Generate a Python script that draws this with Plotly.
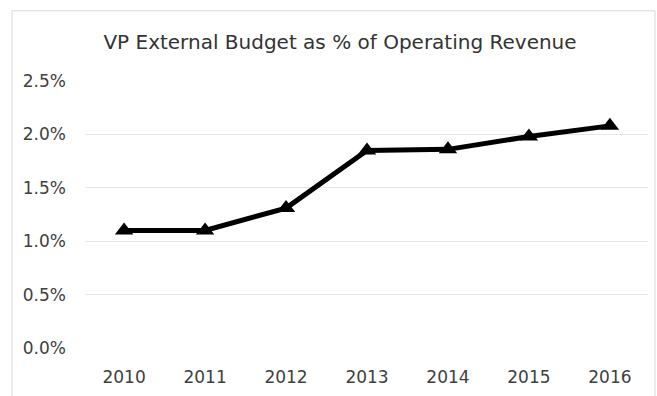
import plotly.graph_objects as go

# VP external budget as a share of operating revenue, by year
years = ["2010", "2011", "2012", "2013", "2014", "2015", "2016"]
budget_pct = [1.10, 1.10, 1.31, 1.85, 1.86, 1.98, 2.08]
y_ticks = [0.0, 0.5, 1.0, 1.5, 2.0, 2.5]
y_tick_labels = ["0.0%", "0.5%", "1.0%", "1.5%", "2.0%", "2.5%"]

fig = go.Figure()
fig.add_trace(go.Scatter(
    x=years,
    y=budget_pct,
    mode="lines+markers",
    line=dict(color="black", width=5),
    marker=dict(symbol="triangle-up", size=16, color="black"),
    showlegend=False,
))

W, H = 657, 396
L, R, T, B = 86, 9, 81, 45
pw, ph = W - L - R, H - T - B

def px_x(x):
    return (x - L) / pw

def px_y(y):
    return (H - B - y) / ph

fig.update_layout(
    width=W,
    height=H,
    margin=dict(l=L, r=R, t=T, b=B),
    paper_bgcolor="white",
    plot_bgcolor="white",
    font=dict(family="'DejaVu Sans', sans-serif", color="#595959"),
    title=dict(
        text="VP External Budget as % of Operating Revenue",
        x=340 / W,
        xanchor="center",
        y=1 - 42 / H,
        yanchor="middle",
        font=dict(size=20, color="#333333"),
    ),
    xaxis=dict(
        type="category",
        showgrid=False,
        showline=False,
        zeroline=False,
        ticks="",
        tickfont=dict(size=17, color="#404040"),
        ticklabelstandoff=17,
    ),
    yaxis=dict(
        range=[0, 2.5],
        tickvals=y_ticks,
        ticktext=y_tick_labels,
        showgrid=True,
        gridcolor="#e6e6e6",
        gridwidth=1,
        zeroline=False,
        showline=False,
        ticks="",
        tickfont=dict(size=17, color="#404040"),
        ticklabelstandoff=19,
    ),
    shapes=[
        dict(
            type="rect",
            xref="paper",
            yref="paper",
            x0=px_x(12),
            x1=px_x(655),
            y0=px_y(420),
            y1=px_y(10),
            line=dict(color="#d9d9d9", width=1),
            fillcolor="rgba(0,0,0,0)",
            layer="below",
        )
    ],
)

fig.write_html("out.html")
